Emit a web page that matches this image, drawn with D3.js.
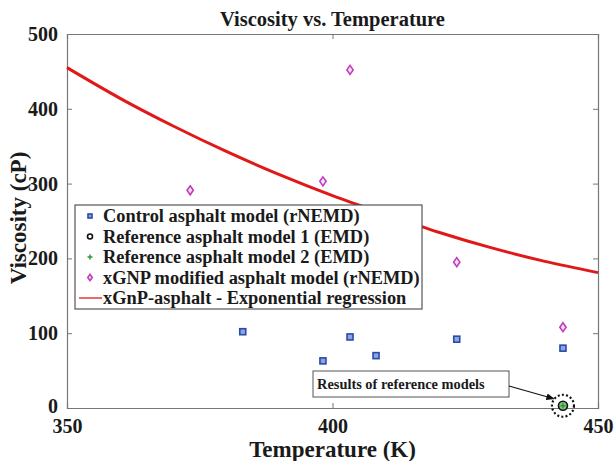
<!DOCTYPE html>
<html>
<head>
<meta charset="utf-8">
<script src="https://cdn.jsdelivr.net/npm/d3@7"></script>
<style>
  body { margin: 0; background: #fff; }
  text { font-family: "Liberation Serif", "Times New Roman", serif; font-weight: bold; fill: #1a1a1a; }
</style>
</head>
<body>
<div id="chart"></div>
<script>
// values
var controlT = [383.1, 398.2, 403.3, 408.2, 423.4, 443.4];
var controlV = [102, 63, 95, 70, 92, 80];
var ref1T = [443.4];
var ref1V = [3];
var ref2T = [443.4];
var ref2V = [3];
var xgnpT = [373.2, 398.2, 403.3, 423.4, 443.4];
var xgnpV = [291, 303, 452, 195, 108];
// regression curve, sampled from the figure
var fitT = [350, 360, 370, 380, 390, 400, 410, 420, 430, 440, 450];
var fitV = [455, 414, 377, 343, 312, 284, 259, 235, 214, 196, 181];
var xTicks = [350, 400, 450];
var yTicks = [0, 100, 200, 300, 400, 500];
var legendLabels = [
	"Control asphalt model (rNEMD)",
	"Reference asphalt model 1 (EMD)",
	"Reference asphalt model 2 (EMD)",
	"xGNP modified asphalt model (rNEMD)",
	"xGnP-asphalt - Exponential regression"
];

var margin = {top: 34, right: 18, bottom: 53, left: 67},
	width = 616 - margin.left - margin.right,
	height = 461 - margin.top - margin.bottom;

var svg = d3.select("#chart").append("svg")
	.attr("width", 616)
	.attr("height", 461);

var g = svg.append("g")
	.attr("transform", "translate(" + margin.left + "," + margin.top + ")");

var x = d3.scaleLinear().domain([350, 450]).range([0, width]);
var y = d3.scaleLinear().domain([0, 500]).range([height, 0]);

// title
svg.append("text")
	.attr("x", margin.left + width / 2)
	.attr("y", 26)
	.attr("text-anchor", "middle")
	.style("font-size", "20.5px")
	.text("Viscosity vs. Temperature");

// axes (inner ticks, MATLAB box style)
var xAxis = g.append("g")
	.attr("transform", "translate(0," + height + ")")
	.call(d3.axisBottom(x).tickValues(xTicks).tickSize(-5).tickPadding(11).tickFormat(d3.format("d")));
var xTop = g.append("g")
	.call(d3.axisTop(x).tickValues(xTicks).tickSize(-5).tickFormat(""));
var yAxis = g.append("g")
	.call(d3.axisLeft(y).tickValues(yTicks).tickSize(-5).tickPadding(9));
var yRight = g.append("g")
	.attr("transform", "translate(" + width + ",0)")
	.call(d3.axisRight(y).tickValues(yTicks).tickSize(-5).tickFormat(""));

[xAxis, xTop, yAxis, yRight].forEach(function(a) {
	a.select(".domain").attr("stroke", "#777").attr("stroke-width", 1.2);
	a.selectAll(".tick line").attr("stroke", "#777");
	a.selectAll("text").style("font-size", "20px").attr("fill", "#1a1a1a");
});
xAxis.selectAll("text").attr("dy", "0.72em");
yAxis.selectAll("text").attr("dy", function(d) { return d === 0 ? "0.2em" : "0.32em"; });

// axis labels
svg.append("text")
	.attr("x", margin.left + width / 2)
	.attr("y", 457)
	.attr("text-anchor", "middle")
	.style("font-size", "23px")
	.text("Temperature (K)");
svg.append("text")
	.attr("transform", "translate(26," + (margin.top + height / 2 - 3) + ") rotate(-90)")
	.attr("text-anchor", "middle")
	.style("font-size", "23px")
	.text("Viscosity (cP)");

// regression line
var line = d3.line()
	.x(function(d, i) { return x(fitT[i]); })
	.y(function(d) { return y(d); })
	.curve(d3.curveMonotoneX);
g.append("path")
	.datum(fitV)
	.attr("fill", "none")
	.attr("stroke", "#e01818")
	.attr("stroke-width", 3)
	.attr("d", line);

// markers
function square(sel, cx, cy, s) {
	sel.append("rect")
		.attr("x", cx - s / 2).attr("y", cy - s / 2)
		.attr("width", s).attr("height", s)
		.attr("fill", "#8aa4e4").attr("stroke", "#2a4aa8").attr("stroke-width", 1.6);
}
function diamond(sel, cx, cy, s) {
	sel.append("path")
		.attr("d", "M" + cx + "," + (cy - s) + "L" + (cx + s * 0.7) + "," + cy + "L" + cx + "," + (cy + s) + "L" + (cx - s * 0.7) + "," + cy + "Z")
		.attr("fill", "#f6e0f4").attr("stroke", "#c03cc0").attr("stroke-width", 1.6);
}
function circle(sel, cx, cy, r, fill) {
	sel.append("circle").attr("cx", cx).attr("cy", cy).attr("r", r)
		.attr("fill", fill).attr("stroke", "#111").attr("stroke-width", 1.6);
}
function plus(sel, cx, cy, s) {
	sel.append("path")
		.attr("d", "M" + (cx - s) + "," + cy + "H" + (cx + s) + "M" + cx + "," + (cy - s) + "V" + (cy + s))
		.attr("stroke", "#2e9a2e").attr("stroke-width", 1.5);
}

controlV.forEach(function(v, i) { square(g, x(controlT[i]), y(v), 6); });
xgnpV.forEach(function(v, i) { diamond(g, x(xgnpT[i]), y(v), 4.5); });
ref1V.forEach(function(v, i) { circle(g, x(ref1T[i]), y(v), 4.5, "#7fc57f"); });
ref2V.forEach(function(v, i) { plus(g, x(ref2T[i]), y(v), 2.5); });

// annotation for reference models
var rx = x(ref1T[0]), ry = y(ref1V[0]);
g.append("circle")
	.attr("cx", rx).attr("cy", ry).attr("r", 11)
	.attr("fill", "none").attr("stroke", "#111")
	.attr("stroke-width", 2.2).attr("stroke-dasharray", "2,2.2");
svg.append("defs").append("marker")
	.attr("id", "arr").attr("viewBox", "0 0 10 10")
	.attr("refX", 9).attr("refY", 5)
	.attr("markerWidth", 7).attr("markerHeight", 7)
	.attr("orient", "auto")
	.append("path").attr("d", "M0,1L10,5L0,9Z").attr("fill", "#111");
var ann = g.append("g").attr("transform", "translate(" + (313 - margin.left) + "," + (371 - margin.top) + ")");
ann.append("rect")
	.attr("width", 196).attr("height", 26)
	.attr("fill", "#fff").attr("stroke", "#555").attr("stroke-width", 1);
ann.append("text")
	.attr("x", 4).attr("y", 18)
	.style("font-size", "14.4px")
	.text("Results of reference models");
g.append("line")
	.attr("x1", 509 - margin.left).attr("y1", 386 - margin.top)
	.attr("x2", rx - 9).attr("y2", ry - 7)
	.attr("stroke", "#111").attr("stroke-width", 1.2)
	.attr("marker-end", "url(#arr)");

// legend
var leg = g.append("g").attr("transform", "translate(" + (75 - margin.left) + "," + (205 - margin.top) + ")");
leg.append("rect")
	.attr("width", 347).attr("height", 104)
	.attr("fill", "#fff").attr("stroke", "#555").attr("stroke-width", 1.2);
legendLabels.forEach(function(lbl, i) {
	var cy = 11 + i * 20.5;
	if (i === 0) square(leg, 15, cy, 4);
	if (i === 1) circle(leg, 15, cy, 2.5, "none");
	if (i === 2) plus(leg, 15, cy, 2.5);
	if (i === 3) diamond(leg, 15, cy, 3.2);
	if (i === 4) {
		leg.append("line").attr("x1", 4).attr("x2", 27).attr("y1", cy).attr("y2", cy)
			.attr("stroke", "#e01818").attr("stroke-width", 1.3);
	}
	leg.append("text")
		.attr("x", 28).attr("y", cy)
		.attr("dy", "0.35em")
		.style("font-size", "18.4px")
		.text(lbl);
});
</script>
</body>
</html>
